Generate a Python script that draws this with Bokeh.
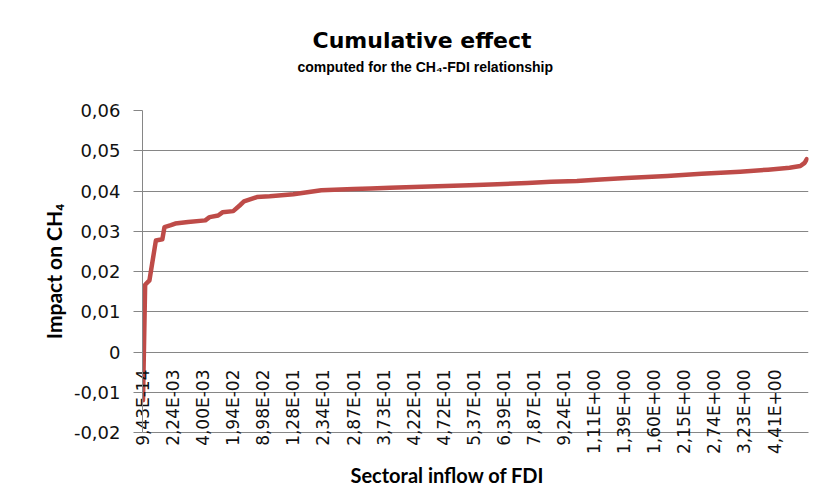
import math
from bokeh.plotting import figure
from bokeh.models import Range1d, FixedTicker, Title
from bokeh.embed import file_html
from bokeh.resources import INLINE

# --- data ---
obs_index = [0, 1, 3, 6, 9, 10, 13, 15, 21, 29, 31, 35, 37, 42, 45, 47, 53, 59, 70, 83,
             98, 106, 115, 137, 152, 165, 179, 190, 202, 211, 225, 244, 260, 278, 291,
             301, 306, 308, 309]
impact = [-0.012, 0.0167, 0.0178, 0.0277, 0.028, 0.031, 0.0315, 0.0319, 0.0323, 0.0327,
          0.0335, 0.0339, 0.0347, 0.035, 0.0364, 0.0374, 0.0385, 0.0387, 0.0392, 0.0402,
          0.0405, 0.0406, 0.0408, 0.0412, 0.0414, 0.0417, 0.0420, 0.0423, 0.0425, 0.0428,
          0.0432, 0.0437, 0.0443, 0.0448, 0.0453, 0.0458, 0.0462, 0.0470, 0.0479]

x_tick_labels = ["9,43E-14", "2,24E-03", "4,00E-03", "1,94E-02", "8,98E-02", "1,28E-01",
                 "2,34E-01", "2,87E-01", "3,73E-01", "4,22E-01", "4,72E-01", "5,37E-01",
                 "6,39E-01", "7,87E-01", "9,24E-01", "1,11E+00", "1,39E+00", "1,60E+00",
                 "2,15E+00", "2,74E+00", "3,23E+00", "4,41E+00"]
label_step = 14
n_obs = 310

y_ticks = [-0.02, -0.01, 0, 0.01, 0.02, 0.03, 0.04, 0.05, 0.06]
y_tick_labels = ["-0,02", "-0,01", "0", "0,01", "0,02", "0,03", "0,04", "0,05", "0,06"]

title_text = "Cumulative effect"
subtitle_text = "computed for the CH\u2084-FDI relationship"
x_title = "Sectoral inflow of FDI"
y_title = "Impact on CH\u2084"

GRID = "#868686"
LINE = "#BE4B48"

x_ticks = [i * label_step for i in range(len(x_tick_labels))]

p = figure(frame_width=666, frame_height=322, title=None,
           x_range=Range1d(-0.23, n_obs - 0.2), y_range=Range1d(y_ticks[0], y_ticks[-1]),
           output_backend="svg", toolbar_location=None,
           min_border_left=142, min_border_top=110, min_border_right=3, min_border_bottom=20)
p.outline_line_color = None
p.background_fill_color = "white"
p.border_fill_color = "white"

# y axis
ay = p.yaxis[0]
ay.ticker = FixedTicker(ticks=y_ticks)
ay.major_label_overrides = {t: s for t, s in zip(y_ticks, y_tick_labels)}
ay.axis_line_color = GRID
ay.major_tick_line_color = GRID
ay.major_tick_in = 0
ay.major_tick_out = 9
ay.minor_tick_line_color = None
ay.major_label_standoff = 13
ay.major_label_text_font = "DejaVu Sans"
ay.major_label_text_font_size = "18px"
ay.major_label_text_color = "#111111"
ay.axis_label = y_title
ay.axis_label_text_font = "Lato"
ay.axis_label_text_font_style = "bold"
ay.axis_label_text_font_size = "21px"
ay.axis_label_text_color = "#000000"
ay.axis_label_standoff = 5

# x (category) axis: labels drawn vertically, pulled up into the plot as in the source
ax = p.xaxis[0]
ax.ticker = FixedTicker(ticks=x_ticks)
ax.major_label_overrides = {t: s for t, s in zip(x_ticks, x_tick_labels)}
ax.major_label_orientation = math.pi / 2
ax.major_label_standoff = -63
ax.major_tick_line_color = None
ax.minor_tick_line_color = None
ax.major_tick_in = 0
ax.major_tick_out = 0
ax.axis_line_color = GRID
ax.major_label_text_font = "DejaVu Sans"
ax.major_label_text_font_size = "17px"
ax.major_label_text_color = "#111111"

p.xgrid.grid_line_color = None
p.ygrid.grid_line_color = GRID
p.ygrid.grid_line_width = 1

p.line(obs_index, impact, line_color=LINE, line_width=4.5, line_join="round", line_cap="round")

# title block: blank spacer nearest the plot, then subtitle, then title
p.add_layout(Title(text=" ", standoff=21, text_font_size="10px"), "above")
p.add_layout(Title(text=subtitle_text, align="left", offset=155, standoff=4,
                   text_font="Liberation Sans", text_font_style="bold", text_font_size="14px",
                   text_color="#000000"), "above")
p.add_layout(Title(text=title_text, align="left", offset=170, standoff=4,
                   text_font="DejaVu Sans", text_font_style="bold", text_font_size="22px",
                   text_color="#000000"), "above")
p.add_layout(Title(text=x_title, align="left", offset=208, standoff=9,
                   text_font="Lato", text_font_style="bold", text_font_size="20px",
                   text_color="#000000"), "below")

open("out.html", "w").write(file_html(p, INLINE))
